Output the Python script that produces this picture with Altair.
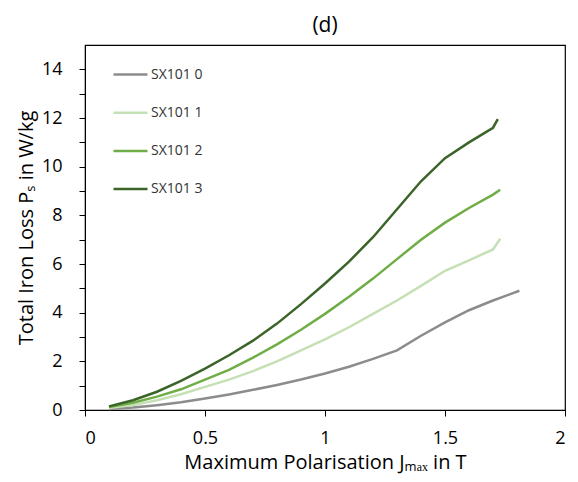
import altair as alt
import pandas as pd

series_names = ["SX101 0", "SX101 1", "SX101 2", "SX101 3"]
colors = ["#8c8c8c", "#c5e0b4", "#70ad47", "#3b6428"]

j_0 = [0.1, 0.2, 0.3, 0.4, 0.5, 0.6, 0.7, 0.8, 0.9, 1.0, 1.1, 1.2, 1.3, 1.4, 1.5, 1.6, 1.7, 1.81]
p_0 = [0.04, 0.1, 0.2, 0.32, 0.47, 0.64, 0.83, 1.03, 1.25, 1.5, 1.78, 2.1, 2.45, 3.05, 3.6, 4.1, 4.5, 4.9]

j_1 = [0.1, 0.2, 0.3, 0.4, 0.5, 0.6, 0.7, 0.8, 0.9, 1.0, 1.1, 1.2, 1.3, 1.4, 1.5, 1.6, 1.7, 1.73]
p_1 = [0.08, 0.2, 0.4, 0.65, 0.95, 1.25, 1.6, 2.0, 2.45, 2.9, 3.4, 3.95, 4.5, 5.1, 5.72, 6.15, 6.6, 7.04]

j_2 = [0.1, 0.2, 0.3, 0.4, 0.5, 0.6, 0.7, 0.8, 0.9, 1.0, 1.1, 1.2, 1.3, 1.4, 1.5, 1.6, 1.7, 1.73]
p_2 = [0.12, 0.3, 0.55, 0.85, 1.25, 1.65, 2.15, 2.7, 3.3, 3.95, 4.65, 5.4, 6.2, 7.0, 7.7, 8.3, 8.85, 9.05]

j_3 = [0.1, 0.2, 0.3, 0.4, 0.5, 0.6, 0.7, 0.8, 0.9, 1.0, 1.1, 1.2, 1.3, 1.4, 1.5, 1.6, 1.7, 1.72]
p_3 = [0.15, 0.4, 0.75, 1.2, 1.7, 2.25, 2.85, 3.55, 4.35, 5.2, 6.1, 7.1, 8.25, 9.4, 10.35, 11.0, 11.6, 11.95]

x_ticks = [0, 0.5, 1, 1.5, 2]
y_major = [0, 2, 4, 6, 8, 10, 12, 14]
y_minor = [1, 3, 5, 7, 9, 11, 13]

rows = []
for name, js, ps in zip(series_names, [j_0, j_1, j_2, j_3], [p_0, p_1, p_2, p_3]):
    for j, p in zip(js, ps):
        rows.append({"series": name, "J": j, "P": p})
df = pd.DataFrame(rows)

font = "Open Sans"
y_scale = alt.Scale(domain=[0, 15], nice=False)

x_enc = alt.X("J:Q", scale=alt.Scale(domain=[0, 2], nice=False),
              axis=alt.Axis(values=x_ticks, title="Maximum Polarisation Jₘₐₓ in T",
                            format="~g", grid=False, domainColor="black", tickColor="black",
                            tickSize=6, labelFontSize=18, titleFontSize=20, labelColor="black",
                            titleColor="black", labelFont=font, titleFont=font,
                            titleFontWeight="normal", labelPadding=13, titlePadding=5))

lines = alt.Chart(df).mark_line(strokeWidth=2.5).encode(
    x=x_enc,
    y=alt.Y("P:Q", scale=y_scale,
            axis=alt.Axis(values=y_major, title="Total Iron Loss Pₛ in W/kg", grid=False,
                          orient="left",
                          domainColor="black", tickColor="black", tickSize=6,
                          labelFontSize=18, titleFontSize=20, labelColor="black",
                          titleColor="black", labelFont=font, titleFont=font,
                          titleFontWeight="normal", labelPadding=17, titlePadding=5)),
    color=alt.Color("series:N", scale=alt.Scale(domain=series_names, range=colors),
                    legend=alt.Legend(title=None, orient="none", legendX=27, legendY=11,
                                      symbolType="stroke", symbolSize=1156,
                                      symbolStrokeWidth=2.5, labelFontSize=14,
                                      labelFont=font, labelColor="#333333",
                                      rowPadding=12.2, labelOffset=2)),
    detail="series:N",
)

minor = alt.Chart(pd.DataFrame({"m": y_minor})).mark_point(opacity=0).encode(
    y=alt.Y("m:Q", scale=y_scale,
            axis=alt.Axis(values=y_minor, labels=False, title=None, domain=False,
                          orient="left", tickColor="black", tickSize=6, grid=False)),
)

chart = alt.layer(lines, minor).resolve_axis(y="independent").properties(
    width=480, height=365,
    autosize=alt.AutoSizeParams(type="none"),
    padding={"left": 77, "top": 37, "right": 5, "bottom": 64},
    title=alt.Title("(d)", fontSize=21, font=font, fontWeight="normal", color="black",
                    anchor="middle", offset=9),
).configure(background="white").configure_view(stroke="black", strokeWidth=1.2)

chart.save("out.html", embed_options={"renderer": "svg", "actions": False})
